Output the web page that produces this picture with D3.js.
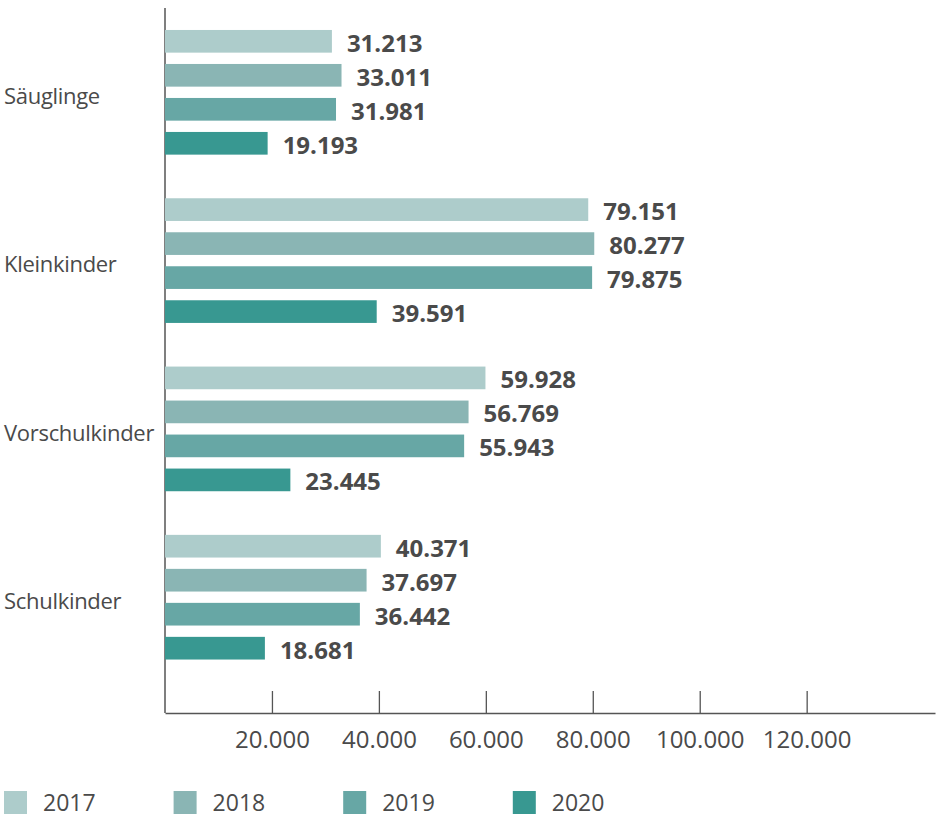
<!DOCTYPE html>
<html>
<head>
<meta charset="utf-8">
<script src="https://cdn.jsdelivr.net/npm/d3@7"></script>
<style>
  body { margin: 0; background: #fff; }
  text { font-family: "Open Sans", sans-serif; fill: #4a4a4a; }
</style>
</head>
<body>
<div id="chart"></div>
<script>
// data
var categories = ["Säuglinge", "Kleinkinder", "Vorschulkinder", "Schulkinder"];
var years = ["2017", "2018", "2019", "2020"];
var values2017 = [31213, 79151, 59928, 40371];
var values2018 = [33011, 80277, 56769, 37697];
var values2019 = [31981, 79875, 55943, 36442];
var values2020 = [19193, 39591, 23445, 18681];
var tickValues = [20000, 40000, 60000, 80000, 100000, 120000];
var colors = ["#adcccb", "#8ab5b4", "#67a7a5", "#389891"];

var series = [values2017, values2018, values2019, values2020];

var svgWidth = 940;
var svgHeight = 817;
var groupHeight = 136;

var de = d3.formatLocale({decimal: ",", thousands: ".", grouping: [3], currency: ["", "€"]});
var fmt = de.format(",");

var svg = d3.select("#chart")
    .append("svg")
    .attr("width", svgWidth)
    .attr("height", svgHeight);

// scales
var xScale = d3.scaleLinear()
    .domain([0, 144000])
    .range([165, 935]);

var yOuter = d3.scaleBand()
    .domain(categories)
    .range([24.3, 697.5])
    .padding(0);

var yInner = d3.scaleBand()
    .domain(years)
    .range([0, groupHeight])
    .paddingInner(0.333)
    .paddingOuter(0.1667);

// x axis
var bottomAxis = d3.axisBottom(xScale)
    .tickValues(tickValues)
    .tickSizeInner(-22)
    .tickSizeOuter(0)
    .tickPadding(18)
    .tickFormat(fmt);

var xAxis = svg.append("g")
    .attr("transform", "translate(0, 713)")
    .call(bottomAxis);

xAxis.select(".domain").attr("stroke", "#555").attr("stroke-width", 1.5);
xAxis.selectAll(".tick line").attr("stroke", "#555").attr("stroke-width", 1.3);
xAxis.selectAll(".tick text")
    .attr("font-family", "Open Sans, sans-serif")
    .attr("font-size", 24)
    .attr("fill", "#4a4a4a");

// y axis line
svg.append("line")
    .attr("x1", 165).attr("x2", 165)
    .attr("y1", 8).attr("y2", 713)
    .attr("stroke", "#555")
    .attr("stroke-width", 1.5);

// groups
var groups = svg.selectAll(".group")
    .data(categories)
    .enter()
    .append("g")
    .attr("class", "group")
    .attr("transform", d => `translate(0, ${yOuter(d)})`);

groups.append("text")
    .attr("x", 4)
    .attr("y", groupHeight / 2 + 4)
    .attr("dy", "0.35em")
    .attr("font-size", 22)
    .attr("letter-spacing", -0.3)
    .text(d => d);

groups.each(function(cat, ci) {
    var g = d3.select(this);
    var rows = years.map((y, yi) => ({year: y, value: series[yi][ci], color: colors[yi]}));

    g.selectAll("rect")
        .data(rows)
        .enter()
        .append("rect")
        .attr("x", xScale(0))
        .attr("y", d => yInner(d.year))
        .attr("width", d => xScale(d.value) - xScale(0))
        .attr("height", yInner.bandwidth())
        .attr("fill", d => d.color);

    g.selectAll(".val")
        .data(rows)
        .enter()
        .append("text")
        .attr("class", "val")
        .attr("x", d => xScale(d.value) + 15)
        .attr("y", d => yInner(d.year) + yInner.bandwidth() / 2 + 2)
        .attr("dy", "0.35em")
        .attr("font-size", 24)
        .attr("font-weight", "bold")
        .text(d => fmt(d.value));
});

// legend
var legend = svg.selectAll(".legend")
    .data(years)
    .enter()
    .append("g")
    .attr("class", "legend")
    .attr("transform", (d, i) => `translate(${4 + i * 169.6}, 791)`);

legend.append("rect")
    .attr("width", 23)
    .attr("height", 23)
    .attr("fill", (d, i) => colors[i]);

legend.append("text")
    .attr("x", 39)
    .attr("y", 20)
    .attr("font-size", 23)
    .text(d => d);
</script>
</body>
</html>
